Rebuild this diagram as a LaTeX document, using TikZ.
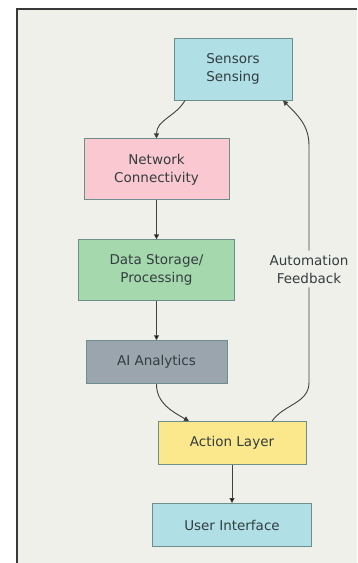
\documentclass[tikz,border=0pt]{standalone}
\usepackage{fontspec}
\setmainfont{DejaVu Sans}
\usetikzlibrary{positioning,arrows.meta}
\definecolor{bgc}{HTML}{F0F0EB}
\definecolor{framec}{HTML}{3A3A3A}
\definecolor{edgec}{HTML}{6E8E8E}
\definecolor{txtc}{HTML}{333D40}
\definecolor{arrc}{HTML}{404040}
\definecolor{cyanc}{HTML}{B0E0E6}
\definecolor{pinkc}{HTML}{FAC8D0}
\definecolor{greenc}{HTML}{A6D8AE}
\definecolor{greyc}{HTML}{9AA5AE}
\definecolor{yellowc}{HTML}{FBE78C}

\begin{document}
\begin{tikzpicture}[x=1pt,y=1pt,
        box/.style={draw=edgec,line width=0.9pt,text=txtc,align=center,
            font=\fontsize{13.5}{18}\selectfont,inner sep=0pt},
        arr/.style={-{Triangle[length=5pt,width=5pt]},draw=arrc,line width=0.9pt}]
                \useasboundingbox (0,0) rectangle (357,-563);
                \fill[white] (0,0) rectangle (357,-563);
                \fill[bgc] (17,-9) rectangle (357,-563);
                \draw[framec,line width=1.5pt] (17,-563) -- (17,-9) -- (357,-9);

                \node[box,fill=cyanc,minimum width=118pt,minimum height=62pt] (sensors) at (233,-69) {Sensors\\Sensing};
                \node[box,fill=pinkc,minimum width=145pt,minimum height=61pt] (network)[below=38pt of sensors,xshift=-76.5pt] {Network\\Connectivity};
                \node[box,fill=greenc,minimum width=156pt,minimum height=61pt] (data)[below=39pt of network] {Data Storage/\\Processing};
                \node[box,fill=greyc,minimum width=141pt,minimum height=43pt] (ai)[below=39pt of data] {AI Analytics};
                \node[box,fill=yellowc,minimum width=148pt,minimum height=43pt] (action)[below=37pt of ai,xshift=75.5pt] {Action Layer};
                \node[box,fill=cyanc,minimum width=159pt,minimum height=43pt] (ui)[below=38pt of action] {User Interface};
                \node[text=txtc,align=center,font=\fontsize{13.5}{18}\selectfont,inner xsep=2pt,inner ysep=4pt] (fb) at (309,-269) {Automation\\Feedback};

                \path[arr] (network) edge (data)
                           (data) edge (ai)
                           (action) edge (ui);
                \draw[arr] ([xshift=-48pt]sensors.south) to[out=-120,in=90] (network.north);
                \draw[arr] (ai.south) to[out=-90,in=150] ([xshift=-43pt]action.north);
                \draw[arrc,line width=0.9pt] ([xshift=40pt]action.north) to[out=55,in=-90] ([yshift=-95pt]fb.south) -- (fb.south);
                \draw[arr] (fb.north) -- ([yshift=105pt]fb.north) to[out=90,in=-45] ([xshift=50pt]sensors.south);
            \end{tikzpicture}
\end{document}
